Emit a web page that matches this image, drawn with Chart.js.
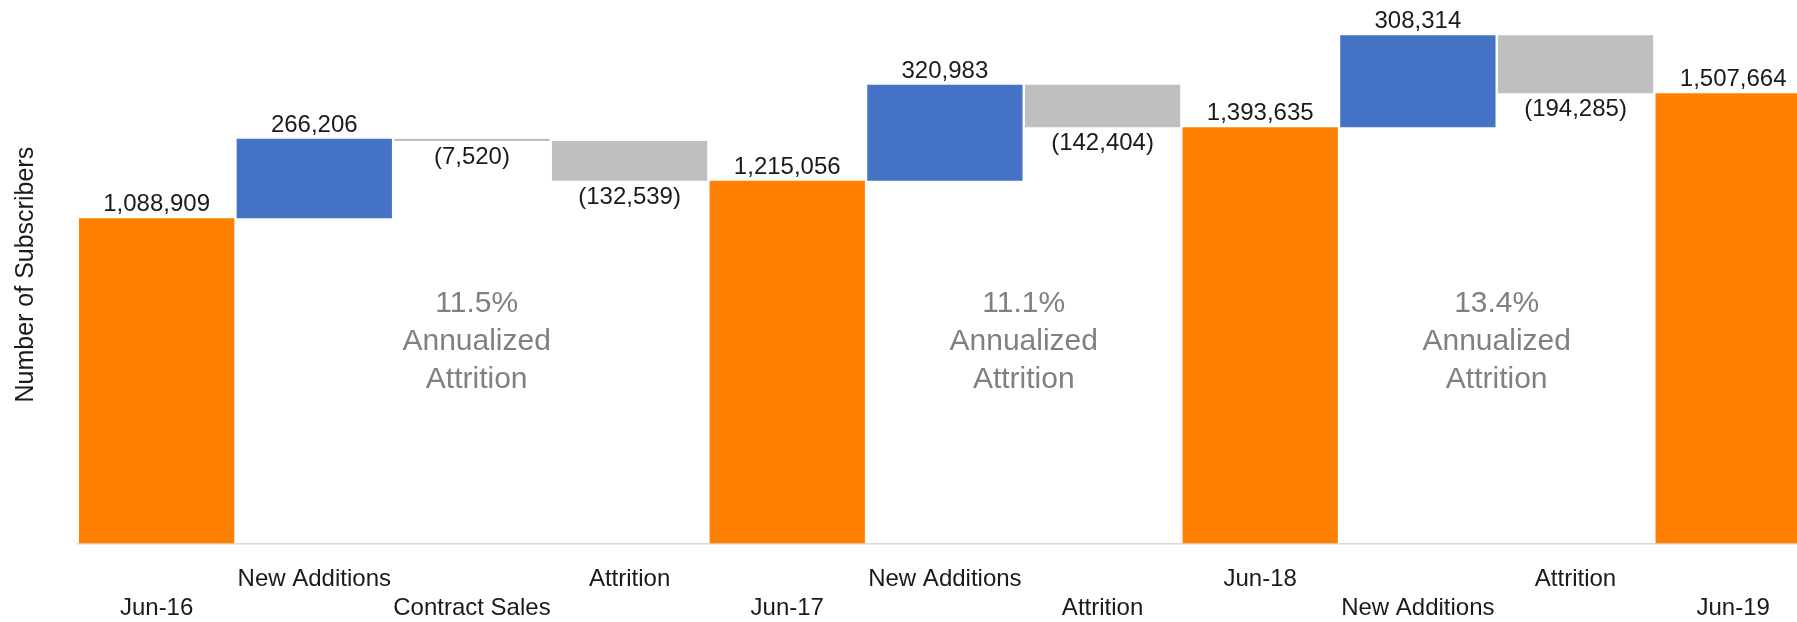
<!DOCTYPE html>
<html>
<head>
<meta charset="utf-8">
<script src="https://cdn.jsdelivr.net/npm/chart.js@4/dist/chart.umd.min.js"></script>
<style>
html,body{margin:0;padding:0;background:#fff;overflow:hidden;width:1797px;height:622px}
canvas{display:block}
</style>
</head>
<body>
<canvas id="c" width="1812" height="622"></canvas>
<script>
// ---- data ----
const categories = ['Jun-16','New Additions','Contract Sales','Attrition','Jun-17','New Additions','Attrition','Jun-18','New Additions','Attrition','Jun-19'];
const stepTypes = ['total','increase','decrease','decrease','total','increase','decrease','total','increase','decrease','total'];
const stepValues = [1088909, 266206, -7520, -132539, 1215056, 320983, -142404, 1393635, 308314, -194285, 1507664];
const attritionRates = ['11.5%','11.1%','13.4%'];
const attritionNoteLines = ['Annualized','Attrition'];
const yAxisTitle = 'Number of Subscribers';

// ---- waterfall floating bars from the steps ----
let running = 0;
const floatingBars = stepValues.map((v, i) => {
  if (stepTypes[i] === 'total') { running = v; return [0, v]; }
  const start = running; running += v;
  return [Math.min(start, running), Math.max(start, running)];
});
const typeColors = {total:'#FF8000', increase:'#4472C4', decrease:'#BFBFBF'};
const FONT = '"Liberation Sans", Arial, sans-serif';

const waterfallLabels = {
  id: 'waterfallLabels',
  afterDatasetsDraw(chart, args, opts) {
    const ctx = chart.ctx;
    const meta = chart.getDatasetMeta(0);
    ctx.save();
    ctx.textAlign = 'center';
    ctx.textBaseline = 'alphabetic';
    ctx.font = '24px ' + FONT;
    ctx.fillStyle = '#1a1a1a';
    meta.data.forEach((bar, i) => {
      const top = Math.min(bar.y, bar.base), bottom = Math.max(bar.y, bar.base);
      const v = stepValues[i];
      if (v >= 0) ctx.fillText(v.toLocaleString('en-US'), bar.x, top - 7);
      else ctx.fillText('(' + Math.abs(v).toLocaleString('en-US') + ')', bar.x, bottom + 23);
    });
    const xs = chart.scales.x, ys = chart.scales.y;
    ctx.font = '30px ' + FONT;
    ctx.fillStyle = '#808080';
    opts.noteAt.forEach((xv, k) => {
      const x = xs.getPixelForValue(xv);
      const y0 = ys.getPixelForValue(opts.noteValue);
      [attritionRates[k], ...attritionNoteLines].forEach((t, j) => ctx.fillText(t, x, y0 + j * opts.noteLineGap));
    });
    ctx.restore();
  }
};

new Chart(document.getElementById('c'), {
  type: 'bar',
  data: {
    labels: categories,
    datasets: [{
      data: floatingBars,
      backgroundColor: stepTypes.map(t => typeColors[t]),
      borderWidth: 0,
      barPercentage: 0.985,
      categoryPercentage: 1
    }]
  },
  options: {
    responsive: false,
    animation: false,
    layout: {padding: {top: 6, bottom: 2.5, left: 0, right: 0}},
    plugins: {
      legend: {display: false},
      tooltip: {enabled: false},
      waterfallLabels: {noteAt: [2.03, 5.5, 8.5], noteValue: 776000, noteLineGap: 38.3}
    },
    scales: {
      x: {
        grid: {display: false, drawTicks: false},
        border: {display: true, color: '#d9d9d9', width: 1.5},
        afterFit: (scale) => { scale.height = 76.1; },
        ticks: {
          autoSkip: false, maxRotation: 0, minRotation: 0, padding: 22, color: '#1a1a1a',
          font: {size: 24, family: FONT, lineHeight: 1.2},
          callback: (v, i) => (i % 2 === 1 ? categories[i] : ['', categories[i]])
        }
      },
      y: {
        min: 0, max: 1800000,
        grid: {display: false, drawTicks: false},
        border: {display: false},
        ticks: {display: false},
        title: {
          display: true, text: yAxisTitle, color: '#1a1a1a',
          font: {size: 25, family: FONT, lineHeight: 1.2},
          padding: {top: 11, bottom: 36.8}
        }
      }
    }
  },
  plugins: [waterfallLabels]
});
</script>
</body>
</html>
